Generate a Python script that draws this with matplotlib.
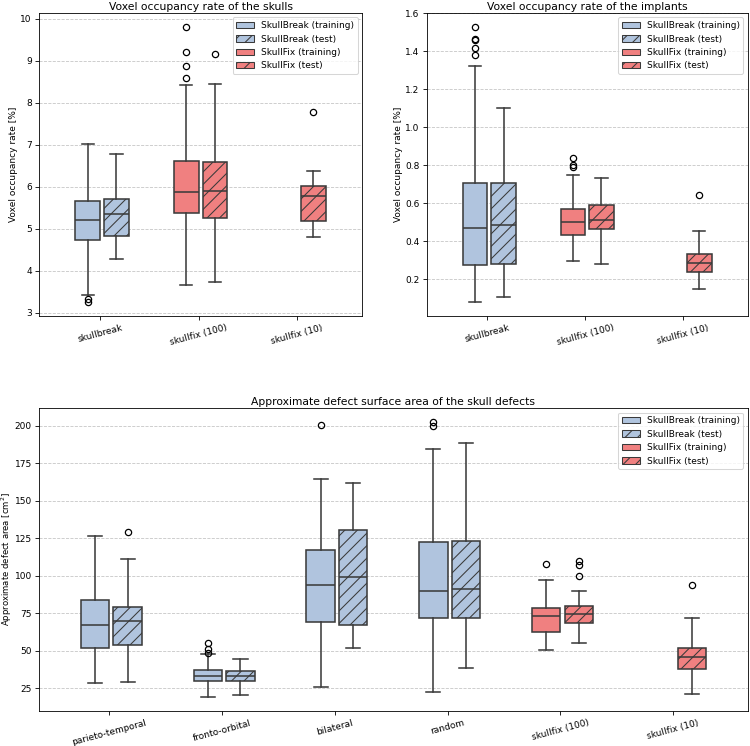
import matplotlib.pyplot as plt
from matplotlib.patches import Patch

plt.rcParams["font.size"] = 8.6
plt.rcParams["hatch.linewidth"] = 1.0

BREAK_COLOR = "lightsteelblue"
FIX_COLOR = "lightcoral"
LINE_COLOR = "#3a3a3a"

# quantiles per box: [whislo, q1, med, q3, whishi]
skull_cats = ["skullbreak", "skullfix (100)", "skullfix (10)"]
skull_colors = [BREAK_COLOR, FIX_COLOR, FIX_COLOR]
skull_train = [[3.43, 4.74, 5.20, 5.66, 7.02], [3.65, 5.37, 5.87, 6.62, 8.42], None]
skull_train_fl = [[3.33, 3.25], [9.81, 9.21, 8.87, 8.59], []]
skull_test = [[4.28, 4.82, 5.36, 5.71, 6.77], [3.74, 5.26, 5.91, 6.59, 8.44], [4.80, 5.19, 5.78, 6.02, 6.37]]
skull_test_fl = [[], [9.15], [7.79]]

impl_cats = ["skullbreak", "skullfix (100)", "skullfix (10)"]
impl_colors = [BREAK_COLOR, FIX_COLOR, FIX_COLOR]
impl_train = [[0.078, 0.276, 0.471, 0.708, 1.321], [0.293, 0.433, 0.503, 0.572, 0.746], None]
impl_train_fl = [[1.53, 1.465, 1.46, 1.42, 1.38], [0.837, 0.803, 0.789], []]
impl_test = [[0.103, 0.281, 0.485, 0.707, 1.104], [0.281, 0.463, 0.514, 0.590, 0.735], [0.146, 0.235, 0.286, 0.333, 0.454]]
impl_test_fl = [[], [], [0.642]]

area_cats = ["parieto-temporal", "fronto-orbital", "bilateral", "random", "skullfix (100)", "skullfix (10)"]
area_colors = [BREAK_COLOR] * 4 + [FIX_COLOR] * 2
area_train = [[28.3, 51.7, 67.2, 83.9, 126.3], [19.0, 29.5, 33.2, 36.8, 47.9], [26.1, 69.4, 93.6, 116.9, 164.7],
              [22.3, 71.9, 89.9, 122.3, 184.5], [50.5, 62.3, 72.8, 78.7, 97.2], None]
area_train_fl = [[], [55.0, 51.4, 48.3], [200.7], [202.6, 199.8], [108.1], []]
area_test = [[28.8, 54.1, 69.6, 79.0, 111.4], [20.6, 29.5, 33.0, 36.6, 44.5], [52.1, 67.0, 99.0, 130.7, 162.0],
             [38.3, 71.9, 91.2, 123.4, 188.2], [55.0, 68.5, 74.3, 79.9, 90.1], [21.2, 37.9, 45.9, 51.7, 71.9]]
area_test_fl = [[128.9], [], [], [], [109.8, 107.0, 100.1], [93.9]]


def draw_panel(ax, cats, colors, train, train_fl, test, test_fl, title, ylabel):
    for quants, fliers, offset, hatch in ((train, train_fl, -0.125, None), (test, test_fl, 0.165, "//")):
        stats, pos, cols = [], [], []
        for i, (q, f) in enumerate(zip(quants, fliers)):
            if q is None:
                continue
            stats.append(dict(whislo=q[0], q1=q[1], med=q[2], q3=q[3], whishi=q[4], fliers=f))
            pos.append(i + offset)
            cols.append(colors[i])
        bp = ax.bxp(stats, positions=pos, widths=0.25, patch_artist=True, manage_ticks=False,
                    boxprops=dict(edgecolor=LINE_COLOR, linewidth=1.5),
                    whiskerprops=dict(color=LINE_COLOR, linewidth=1.5),
                    capprops=dict(color=LINE_COLOR, linewidth=1.5),
                    medianprops=dict(color=LINE_COLOR, linewidth=1.5),
                    flierprops=dict(marker="o", markerfacecolor="none", markeredgecolor="black",
                                    markersize=6, markeredgewidth=1.2))
        for box, c in zip(bp["boxes"], cols):
            box.set_facecolor(c)
            if hatch:
                box.set_hatch(hatch)
    ax.set_xticks(range(len(cats)))
    ax.set_xticklabels(cats, rotation=15)
    ax.set_xlim(-0.62, len(cats) - 1 + 0.66)
    ax.set_title(title, pad=3)
    ax.set_ylabel(ylabel, labelpad=2)
    ax.yaxis.grid(True, linestyle="--", color="#b8b8b8", alpha=0.8)
    ax.set_axisbelow(True)
    handles = [Patch(facecolor=BREAK_COLOR, edgecolor=LINE_COLOR, label="SkullBreak (training)"),
               Patch(facecolor=BREAK_COLOR, edgecolor=LINE_COLOR, hatch="//", label="SkullBreak (test)"),
               Patch(facecolor=FIX_COLOR, edgecolor=LINE_COLOR, label="SkullFix (training)"),
               Patch(facecolor=FIX_COLOR, edgecolor=LINE_COLOR, hatch="//", label="SkullFix (test)")]
    ax.legend(handles=handles, loc="upper right")


fig = plt.figure(figsize=(10, 746 / 75))
ax1 = fig.add_axes([0.052, 0.5764, 0.431, 0.4062])
ax2 = fig.add_axes([0.569, 0.5764, 0.428, 0.4062])
ax3 = fig.add_axes([0.052, 0.047, 0.945, 0.406])

draw_panel(ax1, skull_cats, skull_colors, skull_train, skull_train_fl, skull_test, skull_test_fl,
           "Voxel occupancy rate of the skulls", "Voxel occupancy rate [%]")
draw_panel(ax2, impl_cats, impl_colors, impl_train, impl_train_fl, impl_test, impl_test_fl,
           "Voxel occupancy rate of the implants", "Voxel occupancy rate [%]")
draw_panel(ax3, area_cats, area_colors, area_train, area_train_fl, area_test, area_test_fl,
           "Approximate defect surface area of the skull defects", "Approximate defect area [cm$^2$]")
ax3.yaxis.label.set_fontsize(8.2)
ax3.yaxis.set_label_coords(-0.035, 0.5)

fig.savefig("out.png", dpi=75)
